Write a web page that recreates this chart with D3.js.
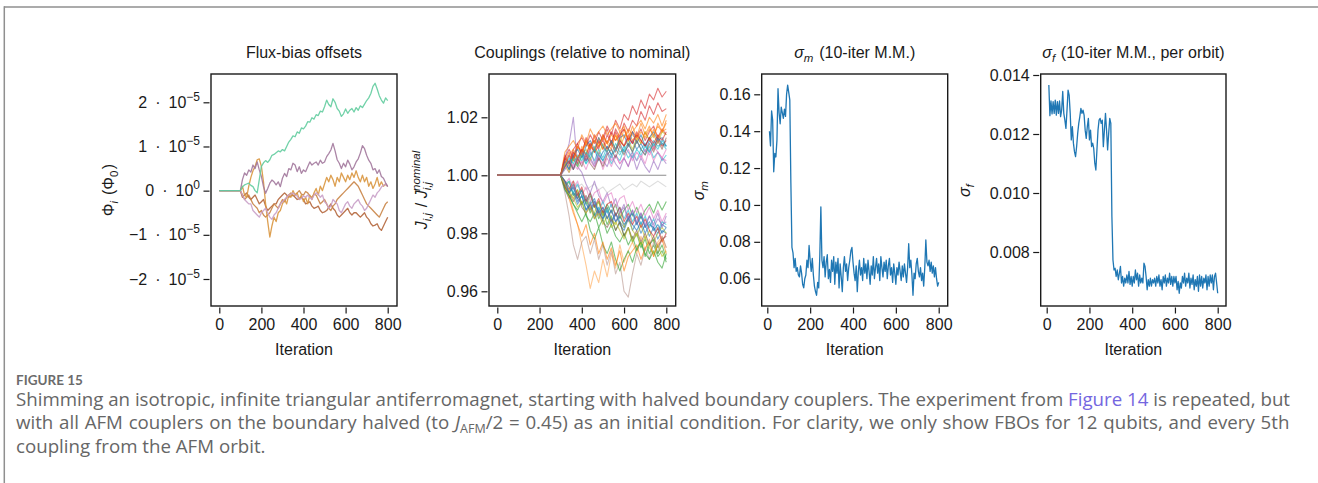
<!DOCTYPE html>
<html>
<head>
<meta charset="utf-8">
<script src="https://cdn.jsdelivr.net/npm/d3@7"></script>
<style>
   body { margin: 0; background: #fff; }
   svg { display: block; }
</style>
</head>
<body>
<svg id="fig" width="1318" height="483"></svg>
<script>
// ---- data ----
var xTicks = [0, 200, 400, 600, 800];

// flux-bias offsets, in units of 1e-5 Phi0, sampled at iteration 0 and every 10 from 100
var fluxIters = [0].concat(d3.range(100, 801, 10));
var fluxYTicks = [-2, -1, 0, 1, 2];
var fluxBrown = [0,0,-0.15,-0.1,-0.05,-0.15,-0.2,-0.15,-0.1,-0.2,-0.3,-0.25,-0.2,-0.35,-0.45,-0.4,-0.35,-0.3,-0.3,-0.2,-0.15,-0.1,-0.05,-0.1,-0.15,-0.12,-0.1,-0.15,-0.2,-0.18,-0.15,-0.2,-0.3,-0.28,-0.25,-0.35,-0.4,-0.38,-0.35,-0.45,-0.5,-0.48,-0.45,-0.38,-0.3,-0.4,-0.45,-0.55,-0.6,-0.55,-0.5,-0.45,-0.4,-0.5,-0.55,-0.5,-0.5,-0.55,-0.6,-0.55,-0.5,-0.6,-0.65,-0.75,-0.8,-0.78,-0.75,-0.85,-0.9,-0.8,-0.7,-0.6];
var fluxAmber = [0,0,-0.1,-0.2,-0.15,-0.1,-0.2,-0.3,-0.35,-0.4,-0.5,-0.45,-0.55,-0.6,-0.55,-0.5,-0.4,-0.3,-0.35,-0.4,-0.3,-0.2,-0.25,-0.15,-0.1,-0.05,-0.12,-0.1,-0.05,0,-0.08,-0.1,-0.02,-0.05,-0.12,-0.15,-0.08,-0.1,-0.2,-0.3,-0.25,-0.2,-0.3,-0.4,-0.45,-0.35,-0.3,-0.2,-0.15,-0.1,-0.05,0,0.05,0.1,0.15,0.2,0.15,0.1,0,-0.1,-0.2,-0.3,-0.35,-0.4,-0.45,-0.5,-0.55,-0.6,-0.5,-0.4,-0.3,-0.25];
var fluxOrange = [0,0,0.1,-0.1,-0.15,0.1,0.3,0.45,0.55,0.7,0.72,0.55,0.2,-0.3,-0.7,-1.05,-0.8,-0.6,-0.7,-0.5,-0.45,-0.3,-0.2,-0.3,-0.1,-0.15,0,-0.1,-0.05,-0.2,-0.1,-0.25,-0.15,-0.3,-0.1,-0.2,-0.05,0.05,-0.1,0.1,0,0.15,0.3,0.2,0.35,0.25,0.1,0.3,0.2,0.4,0.3,0.2,0.35,0.25,0.4,0.3,0.45,0.3,0.2,0.35,0.2,0.3,0.1,0.2,0.05,0.15,0.3,0.1,0.2,0.1,0.15,0.1];
var fluxPink = [0,0,-0.1,-0.2,-0.25,-0.3,-0.3,-0.45,-0.5,-0.55,-0.6,-0.5,-0.45,-0.4,-0.5,-0.6,-0.65,-0.55,-0.5,-0.4,-0.3,-0.25,-0.2,-0.15,-0.1,-0.08,-0.05,-0.1,-0.12,-0.2,-0.18,-0.12,-0.15,-0.1,-0.15,-0.2,-0.1,-0.05,-0.08,-0.15,-0.1,-0.25,-0.3,-0.4,-0.35,-0.2,-0.25,-0.3,-0.45,-0.5,-0.4,-0.3,-0.25,-0.35,-0.4,-0.3,-0.25,-0.2,-0.3,-0.35,-0.45,-0.4,-0.3,-0.2,-0.1,-0.15,-0.05,0,0.08,0.12,0.15,0.1];
var fluxMauve = [0,0,0.25,0.4,0.35,0.47,0.42,0.58,0.5,0.65,0.47,0.32,0.09,-0.06,0.05,0.17,0.24,0.2,0.13,0.2,0.09,0.28,0.39,0.32,0.5,0.47,0.62,0.58,0.43,0.54,0.39,0.47,0.43,0.54,0.65,0.58,0.62,0.65,0.58,0.69,0.62,0.65,0.77,0.84,0.92,1.07,0.9,0.7,0.62,0.5,0.62,0.54,0.69,0.6,0.47,0.54,0.65,0.72,0.85,1.02,0.95,0.8,0.69,0.62,0.47,0.5,0.39,0.47,0.32,0.28,0.18,0.09];
var fluxGreen = [0,0,0.09,0.13,0.15,0.17,0.12,0.09,0,-0.05,0.25,0.55,0.63,0.68,0.64,0.7,0.8,0.82,0.86,0.9,0.88,0.93,0.9,1,1.1,1.16,1.24,1.22,1.33,1.3,1.42,1.4,1.46,1.56,1.55,1.65,1.62,1.72,1.7,1.8,1.78,1.9,2.05,1.95,1.9,2.08,2,1.86,1.8,1.68,1.74,1.85,1.75,1.82,1.86,1.78,1.88,1.82,1.92,1.88,1.96,2.04,2.1,2.2,2.36,2.43,2.3,2.15,2.05,1.98,2.1,2.04];
var fluxSeries = [fluxBrown, fluxAmber, fluxOrange, fluxPink, fluxMauve, fluxGreen];
var fluxColors = ['#b4663c', '#c98446', '#d9963f', '#c9a0c8', '#a2789c', '#62cc9e'];

// couplings, per-mille offset from nominal, at iteration 0 and every 20 from 300
var couplingIters = [0].concat(d3.range(300, 801, 20));
var couplingYTicks = [0.96, 0.98, 1.00, 1.02];
var couplingPermille = [
   // flat + faint gray
   [0,0,0,0,0,0,0,0,0,0,0,0,0,0,0,0,0,0,0,0,0,0,0,0,0,0,0],
   [0,0,-2,-3,-2,-4,-3,-5,-4,-3,-5,-4,-6,-5,-4,-3,-5,-4,-3,-4,-2,-3,-4,-3,-2,-3,-4],
   // lower group
   [0,0,-4,-2,-7,-5,-10,-8,-13,-10,-15,-12,-17,-14,-19,-16,-21,-18,-23,-20,-25,-22,-27,-24,-28,-26,-30],
   [0,0,-3,-6,-3,-8,-5,-10,-7,-11,-9,-14,-10,-13,-10,-15,-12,-10,-14,-11,-15,-12,-10,-13,-9,-12,-9],
   [0,0,-5,-8,-6,-10,-7,-12,-9,-14,-11,-15,-12,-17,-13,-16,-18,-14,-19,-16,-20,-17,-21,-18,-22,-19,-20],
   [0,0,6,11,20,3,1,-3,-6,-2,-7,-9,-6,-11,-8,-13,-10,-15,-12,-16,-13,-17,-14,-18,-15,-17,-16],
   [0,0,-4,-7,-12,-17,-24,-31,-39,-33,-37,-29,-35,-27,-32,-24,-30,-26,-23,-27,-21,-26,-22,-28,-23,-21,-25],
   [0,0,-6,-14,-24,-29,-23,-21,-27,-22,-29,-24,-31,-26,-34,-30,-40,-42,-34,-27,-31,-25,-29,-23,-27,-21,-25],
   [0,0,-3,-1,-5,-2,-7,-4,-9,-6,-5,-10,-7,-6,-11,-8,-7,-12,-9,-13,-10,-14,-11,-15,-12,-16,-13],
   [0,0,-4,-6,-8,-5,-10,-7,-11,-13,-9,-14,-11,-15,-17,-13,-18,-15,-19,-21,-17,-22,-19,-23,-20,-18,-20],
   [0,0,-2,-4,-6,-8,-5,-10,-12,-9,-13,-15,-11,-16,-13,-17,-19,-15,-17,-19,-16,-20,-17,-18,-20,-17,-18],
   [0,0,-3,-2,-6,-3,-7,-9,-6,-10,-12,-9,-13,-10,-14,-11,-15,-12,-16,-13,-17,-14,-18,-15,-19,-16,-17],
   [0,0,-4,-7,-10,-13,-16,-13,-19,-22,-18,-24,-27,-23,-29,-33,-29,-26,-30,-25,-23,-28,-24,-22,-27,-24,-29],
   [0,0,-2,-5,-2,-7,-4,-9,-6,-11,-8,-13,-10,-9,-14,-11,-16,-13,-17,-14,-18,-15,-19,-21,-18,-23,-20],
   [0,0,-4,-8,-13,-17,-21,-17,-24,-20,-27,-23,-29,-25,-31,-26,-33,-28,-26,-24,-29,-25,-23,-28,-24,-22,-27],
   [0,0,-3,-6,-3,-8,-10,-7,-12,-9,-14,-11,-15,-12,-16,-13,-11,-16,-12,-17,-13,-18,-14,-17,-13,-18,-14],
   [0,0,-5,-7,-10,-12,-9,-14,-16,-13,-18,-15,-20,-17,-21,-23,-20,-24,-21,-26,-23,-27,-29,-26,-30,-32,-27],
   [0,0,-4,-6,-9,-6,-11,-13,-10,-15,-12,-16,-18,-15,-19,-16,-21,-18,-22,-19,-23,-20,-24,-21,-25,-22,-21],
   [0,0,-3,-5,-8,-11,-9,-13,-11,-15,-13,-17,-14,-18,-16,-19,-22,-18,-23,-20,-24,-21,-25,-27,-24,-28,-26],
   [0,0,-2,-6,-4,-9,-7,-12,-10,-8,-13,-11,-15,-12,-16,-14,-17,-15,-13,-17,-14,-18,-16,-19,-17,-20,-18],
   // upper group
   [0,0,3,7,5,10,8,12,9,14,11,13,17,14,19,16,21,19,24,21,26,23,28,26,30,27,29],
   [0,0,5,2,7,4,9,5,10,8,12,9,14,11,16,13,18,15,19,17,22,19,24,21,25,22,23],
   [0,0,6,3,8,5,10,7,11,8,13,9,12,10,14,11,16,12,15,17,19,16,20,18,21,17,21],
   [0,0,7,4,9,11,7,13,10,12,9,14,11,15,12,14,16,12,15,13,16,12,15,17,13,16,14],
   [0,0,4,2,6,3,7,4,8,5,9,6,10,7,11,8,9,11,8,12,9,11,8,12,10,11,9],
   [0,0,3,5,2,6,8,5,7,9,5,8,10,7,9,11,8,10,12,9,11,8,12,10,13,11,10],
   [0,0,5,8,5,10,7,12,9,13,10,14,11,9,14,10,13,15,12,14,11,15,12,16,13,15,16],
   [0,0,2,4,6,3,7,4,6,3,7,5,8,4,7,5,9,6,8,5,9,7,10,6,8,5,7],
   [0,0,3,1,4,2,5,2,6,3,7,2,6,3,7,4,6,3,8,5,7,4,9,5,8,6,5],
   [0,0,4,1,6,3,7,9,5,10,7,11,8,12,9,13,10,12,9,13,11,15,12,14,11,15,14],
   [0,0,6,9,6,11,13,10,14,11,15,12,16,11,15,12,10,14,11,15,12,10,13,9,13,10,12],
   [0,0,5,7,2,6,8,5,9,4,8,5,3,7,4,2,6,3,7,2,6,3,1,5,2,6,4],
   [0,0,8,10,12,9,14,11,16,13,15,17,14,16,18,15,17,12,17,13,18,14,17,13,18,15,19],
   [0,0,5,2,7,9,6,10,12,9,13,10,8,12,9,13,14,10,15,11,14,10,13,15,12,13,10],
   [0,0,6,4,8,6,9,7,11,8,10,12,9,11,8,12,10,13,11,14,12,10,13,11,14,12,15],
   [0,0,3,6,4,7,5,8,6,9,7,5,8,6,9,7,10,8,6,9,7,10,8,11,9,12,10],
   [0,0,4,7,9,6,8,11,9,12,10,13,11,14,12,15,13,16,14,12,15,13,16,14,17,15,18],
   [0,0,2,5,3,6,4,7,5,3,6,4,8,5,7,4,6,9,5,8,6,9,7,10,8,6,9],
   [0,0,3,5,2,6,3,7,4,2,6,3,7,9,6,10,7,11,8,12,9,7,11,8,12,9,13]
];
var couplingColors = ['#7f7f7f', '#c7c7c7',
   '#2ca02c', '#2ca02c', '#1f77b4', '#9467bd', '#ffa54f', '#b8958c', '#e377c2', '#bcbd22', '#1f77b4',
   '#17becf', '#2ca02c', '#d62728', '#ff7f0e', '#9467bd', '#2ca02c', '#8c564b', '#bcbd22', '#1f77b4',
   '#d62728', '#d62728', '#ff7f0e', '#d62728', '#17becf', '#1f77b4', '#ff7f0e', '#17becf', '#e377c2',
   '#bcbd22', '#d62728', '#9467bd', '#ff7f0e', '#1f77b4', '#d62728', '#17becf', '#ff7f0e', '#e377c2', '#8c564b'];

// sigma_m and sigma_f (10-iter moving mean), every 5 iterations from 10
var sigmaIters = d3.range(10, 801, 5);
var sigmaMYTicks = [0.06, 0.08, 0.10, 0.12, 0.14, 0.16];
var sigmaM = [0.140,0.132,0.151,0.146,0.118,0.128,0.126,0.135,0.163,0.150,0.144,0.153,0.150,0.147,0.152,0.148,0.160,0.165,0.161,0.157,
   0.112,0.077,0.074,0.066,0.071,0.064,0.066,0.062,0.061,0.067,0.063,0.057,0.055,0.060,0.062,0.070,0.066,0.078,0.070,0.064,
   0.071,0.062,0.056,0.053,0.051,0.058,0.055,0.072,0.099,0.070,0.066,0.072,0.061,0.069,0.073,0.060,0.065,0.058,0.070,0.064,
   0.072,0.057,0.069,0.063,0.071,0.055,0.068,0.061,0.053,0.066,0.072,0.064,0.068,0.059,0.066,0.070,0.075,0.077,0.069,0.063,
   0.059,0.067,0.053,0.064,0.070,0.062,0.066,0.059,0.071,0.063,0.068,0.060,0.070,0.064,0.057,0.067,0.062,0.072,0.060,0.066,
   0.071,0.063,0.068,0.059,0.072,0.066,0.061,0.069,0.064,0.070,0.060,0.067,0.071,0.062,0.066,0.058,0.068,0.063,0.057,0.066,
   0.062,0.069,0.064,0.059,0.067,0.061,0.068,0.063,0.058,0.066,0.079,0.066,0.070,0.062,0.051,0.063,0.060,0.068,0.071,0.064,
   0.061,0.066,0.059,0.063,0.056,0.066,0.081,0.069,0.067,0.070,0.064,0.069,0.063,0.067,0.061,0.066,0.060,0.056,0.058];
var sigmaFYTicks = [0.008, 0.010, 0.012, 0.014];
var sigmaF = [0.01366,0.01262,0.01312,0.01268,0.01310,0.01270,0.01315,0.01264,0.01310,0.01270,0.01312,0.01259,0.01281,0.01344,0.01270,0.01247,0.01219,0.01281,0.01349,0.01332,
   0.01270,0.01180,0.01225,0.01169,0.01140,0.01123,0.01157,0.01202,0.01236,0.01259,0.01287,0.01270,0.01281,0.01264,0.01213,0.01185,0.01225,0.01253,0.01180,0.01213,
   0.01157,0.01169,0.01151,0.01101,0.01078,0.01146,0.01213,0.01247,0.01253,0.01236,0.01247,0.01157,0.01213,0.01270,0.01213,0.01146,0.01202,0.01253,0.01236,0.00920,
   0.00773,0.00739,0.00745,0.00717,0.00739,0.00706,0.00728,0.00751,0.00695,0.00717,0.00684,0.00711,0.00695,0.00722,0.00695,0.00734,0.00690,0.00717,0.00684,0.00717,
   0.00695,0.00739,0.00706,0.00728,0.00684,0.00722,0.00695,0.00711,0.00695,0.00762,0.00751,0.00717,0.00672,0.00706,0.00684,0.00711,0.00684,0.00706,0.00695,0.00711,
   0.00684,0.00717,0.00695,0.00722,0.00684,0.00706,0.00672,0.00717,0.00695,0.00722,0.00684,0.00711,0.00695,0.00728,0.00690,0.00717,0.00684,0.00717,0.00695,0.00717,
   0.00672,0.00700,0.00660,0.00695,0.00678,0.00717,0.00695,0.00728,0.00684,0.00711,0.00695,0.00728,0.00678,0.00711,0.00690,0.00722,0.00672,0.00706,0.00684,0.00717,
   0.00667,0.00722,0.00684,0.00717,0.00678,0.00711,0.00695,0.00722,0.00672,0.00717,0.00684,0.00722,0.00695,0.00722,0.00672,0.00717,0.00728,0.00695,0.00660];

// ---- layout ----
var svg = d3.select('#fig');
var boxTop = 74, boxBottom = 306;
var axisFont = '"Liberation Sans", Arial, Helvetica, sans-serif';
var ink = '#1a1a1a';

// page frame
svg.append('line').attr('x1', 4).attr('y1', 7).attr('x2', 1318).attr('y2', 7)
   .attr('stroke', '#8f8f8f').attr('stroke-width', 1.5);
svg.append('line').attr('x1', 4.3).attr('y1', 6.3).attr('x2', 4.3).attr('y2', 483)
   .attr('stroke', '#8f8f8f').attr('stroke-width', 1.5);

function drawPanel(p) {
   var g = svg.append('g');
   var x = d3.scaleLinear().domain([0, 800]).range([p.x0, p.x800]);
   var y = d3.scaleLinear().domain(p.yRef).range(p.yPx);

   var xa = g.append('g')
      .attr('transform', 'translate(0,' + (boxBottom + 1.5) + ')')
      .call(d3.axisBottom(x).tickValues(xTicks).tickSize(6).tickPadding(5).tickSizeOuter(0));
   var ya = g.append('g')
      .attr('transform', 'translate(' + (p.left - 1.5) + ',0)')
      .call(d3.axisLeft(y).tickValues(p.yTicks).tickSize(6).tickPadding(3.5).tickFormat(p.fmt || null));
   [xa, ya].forEach(function(a) {
      a.select('.domain').remove();
      a.attr('font-family', axisFont).attr('font-size', 16).attr('color', ink);
      a.selectAll('line').attr('stroke-width', 1.2);
   });

   g.append('rect')
      .attr('x', p.left).attr('y', boxTop)
      .attr('width', p.right - p.left).attr('height', boxBottom - boxTop)
      .attr('fill', 'none').attr('stroke', ink).attr('stroke-width', 1.4);

   var cx = (p.left + p.right) / 2;
   var title = g.append('text').attr('x', cx).attr('y', 58)
      .attr('text-anchor', 'middle').attr('font-family', axisFont).attr('font-size', 16).attr('fill', ink);
   p.title(title);

   g.append('text').attr('x', cx).attr('y', 355)
      .attr('text-anchor', 'middle').attr('font-family', axisFont).attr('font-size', 16).attr('fill', ink)
      .text('Iteration');

   var yl = g.append('text')
      .attr('transform', 'translate(' + p.ylabX + ',190) rotate(-90)')
      .attr('text-anchor', 'middle').attr('font-family', axisFont).attr('font-size', 16).attr('fill', ink);
   p.ylab(yl);

   return {g: g, x: x, y: y, yAxis: ya};
}

function sub(t, s, italic) {
   t.append('tspan').attr('font-size', 11.5).attr('dy', 4).attr('font-style', italic ? 'italic' : null).text(s);
   t.append('tspan').attr('dy', -4).text('\u200a');
}

// panel 1: flux-bias offsets
var p1 = drawPanel({
   left: 211, right: 397, x0: 219.3, x800: 387.7,
   yRef: [-2, 2], yPx: [279, 102.3], yTicks: fluxYTicks,
   ylabX: 114,
   title: function(t) { t.text('Flux-bias offsets'); },
   ylab: function(t) {
      t.append('tspan').text('\u03a6');
      sub(t, 'i', true);
      t.append('tspan').text(' (\u03a6');
      sub(t, '0', false);
      t.append('tspan').text(')');
   }
});
p1.yAxis.selectAll('.tick text').each(function(d) {
   var t = d3.select(this).text(null);
   t.append('tspan').text((d < 0 ? '\u2212' + (-d) : d) + '\u2002\u00b7\u200210');
   t.append('tspan').attr('font-size', 12).attr('dy', -7).text(d === 0 ? '0' : '\u22125');
});
var fluxLine = d3.line()
   .x(function(d, i) { return p1.x(fluxIters[i]); })
   .y(function(d) { return p1.y(d); });
fluxSeries.forEach(function(s, k) {
   p1.g.append('path').attr('d', fluxLine(s))
      .attr('fill', 'none').attr('stroke', fluxColors[k]).attr('stroke-width', 1.3)
      .attr('stroke-opacity', 0.9).attr('stroke-linejoin', 'round');
});

// panel 2: couplings
var p2 = drawPanel({
   left: 489, right: 675.7, x0: 497.3, x800: 666.3,
   yRef: [0.96, 1.02], yPx: [291.3, 117.3], yTicks: couplingYTicks, fmt: d3.format('.2f'),
   ylabX: 427,
   title: function(t) { t.text('Couplings (relative to nominal)'); },
   ylab: function(t) {
      t.append('tspan').attr('font-style', 'italic').text('J');
      sub(t, 'i,j', true);
      t.append('tspan').text(' / ');
      t.append('tspan').attr('font-style', 'italic').text('J');
      t.append('tspan').attr('font-size', 11.5).attr('dy', 4).attr('font-style', 'italic').text('i,j');
      t.append('tspan').attr('font-size', 11.5).attr('dx', -9).attr('dy', -11).attr('font-style', 'italic').text('nominal');
   }
});
var couplingLine = d3.line()
   .x(function(d, i) { return p2.x(couplingIters[i]); })
   .y(function(d) { return p2.y(1 + d / 1000); });
couplingPermille.forEach(function(s, k) {
   p2.g.append('path').attr('d', couplingLine(s.slice(0, couplingIters.length)))
      .attr('fill', 'none').attr('stroke', couplingColors[k]).attr('stroke-width', 1.1)
      .attr('stroke-opacity', k === 0 ? 0.9 : 0.6).attr('stroke-linejoin', 'round');
});

// panel 3: sigma_m
var p3 = drawPanel({
   left: 761.7, right: 947.7, x0: 767.3, x800: 938.7,
   yRef: [0.06, 0.16], yPx: [278.7, 94.3], yTicks: sigmaMYTicks, fmt: d3.format('.2f'),
   ylabX: 704,
   title: function(t) {
      t.append('tspan').attr('font-style', 'italic').text('\u03c3');
      sub(t, 'm', true);
      t.append('tspan').text(' (10-iter M.M.)');
   },
   ylab: function(t) {
      t.append('tspan').attr('font-style', 'italic').text('\u03c3');
      sub(t, 'm', true);
   }
});
var sigmaLine3 = d3.line()
   .x(function(d, i) { return p3.x(sigmaIters[i]); })
   .y(function(d) { return p3.y(d); });
p3.g.append('path').attr('d', sigmaLine3(sigmaM.slice(0, sigmaIters.length)))
   .attr('fill', 'none').attr('stroke', '#1f77b4').attr('stroke-width', 1.3).attr('stroke-linejoin', 'round');

// panel 4: sigma_f
var p4 = drawPanel({
   left: 1040.7, right: 1226, x0: 1046.7, x800: 1217.7,
   yRef: [0.008, 0.014], yPx: [252, 75], yTicks: sigmaFYTicks, fmt: d3.format('.3f'),
   ylabX: 970,
   title: function(t) {
      t.append('tspan').attr('font-style', 'italic').text('\u03c3');
      sub(t, 'f', true);
      t.append('tspan').text(' (10-iter M.M., per orbit)');
   },
   ylab: function(t) {
      t.append('tspan').attr('font-style', 'italic').text('\u03c3');
      sub(t, 'f', true);
   }
});
var sigmaLine4 = d3.line()
   .x(function(d, i) { return p4.x(sigmaIters[i]); })
   .y(function(d) { return p4.y(d); });
p4.g.append('path').attr('d', sigmaLine4(sigmaF.slice(0, sigmaIters.length)))
   .attr('fill', 'none').attr('stroke', '#1f77b4').attr('stroke-width', 1.3).attr('stroke-linejoin', 'round');

// ---- caption ----
var capFont = '"Open Sans", Lato, sans-serif';
var capX = 16;
var capSize = 18.7;
var capColor = '#666';
svg.append('text').attr('x', capX).attr('y', 385)
   .attr('font-family', 'Lato, sans-serif').attr('font-weight', 700).attr('font-size', 13.5).attr('fill', '#6b6b6b')
   .text('FIGURE 15');

var l1 = svg.append('text').attr('x', capX).attr('y', 405.5)
   .attr('font-family', capFont).attr('font-size', capSize).attr('fill', capColor);
l1.append('tspan').text('Shimming an isotropic, infinite triangular antiferromagnet, starting with halved boundary couplers. The experiment from ');
l1.append('tspan').attr('fill', '#7466e0').text('Figure 14');
l1.append('tspan').text(' is repeated, but');

var l2 = svg.append('text').attr('x', capX).attr('y', 429)
   .attr('font-family', capFont).attr('font-size', capSize).attr('fill', capColor)
   .attr('word-spacing', 0.9);
l2.append('tspan').text('with all AFM couplers on the boundary halved (to ');
l2.append('tspan').attr('font-style', 'italic').text('J');
l2.append('tspan').attr('font-size', 12.5).attr('dy', 4).text('AFM');
l2.append('tspan').attr('dy', -4).text('/2 = 0.45) as an initial condition. For clarity, we only show FBOs for 12 qubits, and every 5th');

svg.append('text').attr('x', capX).attr('y', 452.5)
   .attr('font-family', capFont).attr('font-size', capSize).attr('fill', capColor)
   .text('coupling from the AFM orbit.');
</script>
</body>
</html>
